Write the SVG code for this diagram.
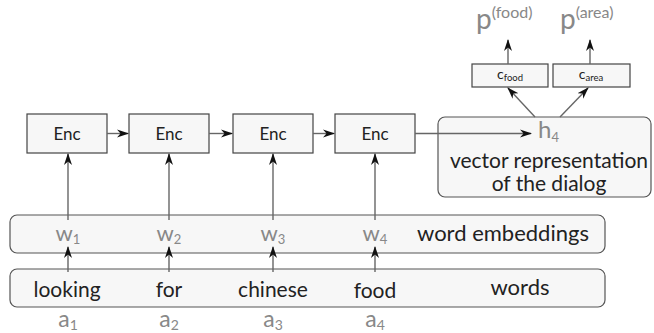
<svg xmlns="http://www.w3.org/2000/svg" width="654" height="333" viewBox="0 0 654 333">
<defs>
<marker id="ah" viewBox="0 0 12 10" refX="11" refY="5" markerWidth="12" markerHeight="10" markerUnits="userSpaceOnUse" orient="auto">
<path d="M0,1 L12,5 L0,9 L3.5,5 Z" fill="#111"/>
</marker>
<style>
text{font-family:"Lato","Open Sans","Liberation Sans",sans-serif}
.box{fill:#f7f7f7;stroke:#444;stroke-width:1.2}
.rb{fill:#f7f7f7;stroke:#555;stroke-width:1.2}
.ln{fill:none;stroke:#666;stroke-width:1.4;marker-end:url(#ah)}
.enc{font-size:17px;fill:#222;text-anchor:middle}
.g{fill:#888}
.b{fill:#222}
.mid{text-anchor:middle}
</style>
</defs>
<g id="layer-words"><rect class="rb" x="10" y="269" width="595" height="38" rx="7"/><text class="b" x="520" y="295" font-size="22" text-anchor="middle">words</text></g>
<g id="layer-emb"><rect class="rb" x="10" y="215" width="595" height="38" rx="7"/><text class="b" x="503" y="241" font-size="22" text-anchor="middle">word embeddings</text></g>
<g id="dialog"><rect class="rb" x="438" y="117" width="213" height="80" rx="7"/>
<text class="g" x="538" y="138" font-size="24">h<tspan font-size="13" dy="4">4</tspan></text>
<text class="b mid" x="549" y="168" font-size="21">vector representation</text>
<text class="b mid" x="549" y="191" font-size="21">of the dialog</text></g>
<g id="enc1"><rect class="box" x="27" y="114" width="80" height="39"/><text class="enc" x="67" y="140">Enc</text></g>
<g id="enc2"><rect class="box" x="129" y="114" width="80" height="39"/><text class="enc" x="169" y="140">Enc</text></g>
<g id="enc3"><rect class="box" x="233" y="114" width="80" height="39"/><text class="enc" x="273" y="140">Enc</text></g>
<g id="enc4"><rect class="box" x="335" y="114" width="80" height="39"/><text class="enc" x="375" y="140">Enc</text></g>
<g id="cfood"><rect class="box" x="472" y="64" width="76" height="23"/><text class="b mid" x="510" y="79" font-size="14">c<tspan font-size="9.5" dy="2">food</tspan></text></g>
<g id="carea"><rect class="box" x="553" y="64" width="77" height="23"/><text class="b mid" x="591" y="79" font-size="14">c<tspan font-size="9.5" dy="2">area</tspan></text></g>
<g id="pfood"><text class="g" x="476" y="29" font-size="28">p<tspan font-size="16" dy="-11">(food)</tspan></text></g>
<g id="parea"><text class="g" x="560" y="29" font-size="28">p<tspan font-size="16" dy="-11">(area)</tspan></text></g>
<g id="tokens">
<text class="b mid" x="67" y="297" font-size="21">looking</text>
<text class="b mid" x="169" y="297" font-size="21">for</text>
<text class="b mid" x="273" y="297" font-size="21">chinese</text>
<text class="b mid" x="375" y="298" font-size="21">food</text>
<text class="g mid" x="68" y="241" font-size="22">w<tspan font-size="13" dy="3">1</tspan></text>
<text class="g mid" x="169" y="241" font-size="22">w<tspan font-size="13" dy="3">2</tspan></text>
<text class="g mid" x="273" y="241" font-size="22">w<tspan font-size="13" dy="3">3</tspan></text>
<text class="g mid" x="375" y="241" font-size="22">w<tspan font-size="13" dy="3">4</tspan></text>
<text class="g mid" x="68" y="327" font-size="23">a<tspan font-size="14" dy="3">1</tspan></text>
<text class="g mid" x="169" y="327" font-size="23">a<tspan font-size="14" dy="3">2</tspan></text>
<text class="g mid" x="273" y="327" font-size="23">a<tspan font-size="14" dy="3">3</tspan></text>
<text class="g mid" x="375" y="327" font-size="23">a<tspan font-size="14" dy="3">4</tspan></text>
</g>
<g id="connectors">
<path class="ln" d="M107,133.5 H128"/>
<path class="ln" d="M209,133.5 H232"/>
<path class="ln" d="M313,133.5 H334"/>
<path class="ln" d="M415,133.5 H531"/>
<path class="ln" d="M68,220 V154"/>
<path class="ln" d="M169,220 V154"/>
<path class="ln" d="M273,220 V154"/>
<path class="ln" d="M375,220 V154"/>
<path class="ln" d="M68,272 V247"/>
<path class="ln" d="M169,272 V247"/>
<path class="ln" d="M273,272 V247"/>
<path class="ln" d="M375,272 V247"/>
<path class="ln" d="M535,117 L508,88"/>
<path class="ln" d="M560,117 L588,88"/>
<path class="ln" d="M508,64 V40"/>
<path class="ln" d="M590,64 V40"/>
</g>
</svg>
